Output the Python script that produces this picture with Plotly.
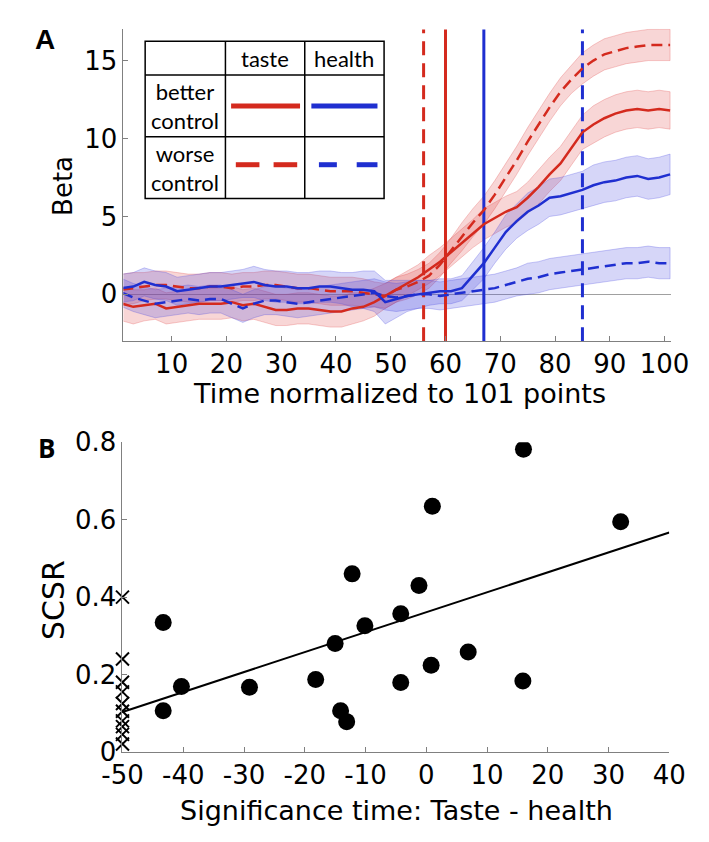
import numpy as np
import plotly.graph_objects as go

# ---------------- panel A data (every 2nd normalized time point) ----------------
time_pts = list(range(1, 102, 2))

taste_better = [-0.6, -0.8, -0.7, -0.6, -0.9, -0.8, -0.7, -0.6, -0.6, -0.6,
                -0.5, -0.7, -0.6, -0.8, -1.0, -1.0, -0.9, -0.9, -1.0, -1.1,
                -1.1, -0.9, -0.8, -0.5, -0.1, 0.3, 0.7, 1.1, 1.6, 2.1,
                2.7, 3.3, 3.9, 4.5, 4.9, 5.3, 5.6, 6.2, 6.9, 7.7,
                8.4, 9.4, 10.4, 10.9, 11.3, 11.6, 11.8, 11.9, 11.8, 11.9, 11.8]
taste_better_err = [1.1, 1.1, 1.0, 1.0, 1.0, 1.0, 1.0, 1.0, 1.0, 1.0,
                    1.0, 1.0, 1.0, 1.0, 1.0, 1.0, 1.0, 1.0, 1.0, 1.0,
                    1.0, 1.0, 0.9, 0.9, 0.8, 0.8, 0.8, 0.8, 0.9, 0.9,
                    0.9, 0.9, 0.9, 1.0, 1.0, 1.0, 1.0, 1.0, 1.1, 1.1,
                    1.1, 1.1, 1.1, 1.2, 1.2, 1.2, 1.2, 1.2, 1.2, 1.2, 1.2]

taste_worse = [0.3, 0.4, 0.5, 0.6, 0.6, 0.5, 0.4, 0.4, 0.5, 0.5,
               0.4, 0.5, 0.5, 0.6, 0.6, 0.5, 0.4, 0.4, 0.3, 0.2,
               0.2, 0.2, 0.1, 0.0, -0.1, 0.3, 0.5, 0.8, 1.2, 1.9,
               2.8, 3.7, 4.6, 5.4, 6.4, 7.5, 8.6, 9.8, 10.9, 12.0,
               13.0, 13.8, 14.5, 15.0, 15.4, 15.6, 15.8, 15.9, 16.0, 16.0, 16.0]
taste_worse_err = [1.0, 1.0, 0.9, 0.9, 0.9, 0.9, 0.9, 0.9, 0.9, 0.9,
                   0.9, 0.9, 0.9, 0.9, 0.9, 0.9, 0.9, 0.9, 0.9, 0.9,
                   0.9, 0.9, 0.9, 0.8, 0.8, 0.8, 0.8, 0.8, 0.8, 0.8,
                   0.8, 0.9, 0.9, 0.9, 0.9, 0.9, 0.9, 0.9, 0.9, 0.9,
                   0.9, 0.9, 1.0, 1.0, 1.0, 1.0, 1.0, 1.0, 1.0, 1.0, 1.0]

health_better = [0.4, 0.5, 0.8, 0.6, 0.5, 0.2, 0.3, 0.4, 0.5, 0.5,
                 0.6, 0.7, 0.8, 0.6, 0.5, 0.5, 0.4, 0.4, 0.5, 0.5,
                 0.4, 0.3, 0.3, 0.2, -0.5, -0.3, -0.1, 0.0, 0.1, 0.2,
                 0.2, 0.4, 1.2, 2.0, 3.0, 4.0, 4.7, 5.3, 5.7, 6.2,
                 6.3, 6.5, 6.7, 7.0, 7.2, 7.3, 7.5, 7.6, 7.4, 7.5, 7.7]
health_better_err = [0.9, 0.9, 0.9, 0.9, 0.9, 0.9, 0.9, 0.9, 0.9, 0.9,
                     0.9, 0.9, 1.0, 1.0, 1.0, 1.0, 1.0, 1.0, 1.0, 1.0,
                     1.0, 1.1, 1.2, 1.3, 1.4, 1.2, 1.0, 0.9, 0.8, 0.8,
                     0.8, 0.8, 0.9, 1.0, 1.0, 1.1, 1.1, 1.2, 1.2, 1.2,
                     1.2, 1.2, 1.2, 1.3, 1.3, 1.3, 1.3, 1.3, 1.3, 1.3, 1.3]

health_worse = [0.1, -0.2, -0.4, -0.6, -0.5, -0.4, -0.3, -0.4, -0.3, -0.3,
                -0.6, -0.9, -0.6, -0.4, -0.4, -0.5, -0.6, -0.5, -0.4, -0.3,
                -0.2, -0.1, 0.0, 0.1, -0.1, -0.2, -0.1, 0.0, 0.0, -0.1,
                0.0, 0.1, 0.2, 0.3, 0.4, 0.6, 0.8, 1.0, 1.1, 1.3,
                1.4, 1.5, 1.6, 1.7, 1.8, 1.9, 2.0, 2.0, 2.1, 2.0, 2.0]
health_worse_err = [0.9, 0.9, 0.9, 0.9, 0.9, 0.9, 0.9, 0.9, 0.9, 0.9,
                    0.9, 0.9, 0.9, 0.9, 0.9, 0.9, 0.9, 0.9, 0.9, 0.9,
                    0.9, 0.9, 0.9, 0.9, 0.9, 0.9, 0.9, 0.9, 0.9, 0.9,
                    0.9, 0.9, 0.9, 0.9, 0.9, 0.9, 0.9, 1.0, 1.0, 1.0,
                    1.0, 1.0, 1.0, 1.0, 1.0, 1.0, 1.0, 1.0, 1.0, 1.0, 1.0]

# significance onset times (taste worse, taste better, health better, health worse)
sig_times = [56, 60, 67, 85]

# ---------------- panel B data ----------------
sig_diff = [16, 1, 32, -12.2, -1.2, -43.3, -4.2, -10.1, -15, 6.9,
            0.8, -18.2, -4.2, 15.9, -40.3, -29.1, -43.3, -14.1, -13.1]
scsr = [0.782, 0.635, 0.595, 0.46, 0.43, 0.334, 0.357, 0.326, 0.28, 0.258,
        0.224, 0.187, 0.179, 0.183, 0.169, 0.167, 0.106, 0.106, 0.078]
never_sig_scsr = [0.40, 0.24, 0.18, 0.155, 0.125, 0.105, 0.08, 0.065, 0.045, 0.02]
fit_x = [-50, 40]
fit_y = [0.103, 0.567]
b_xticks = [-50, -40, -30, -20, -10, 0, 10, 20, 30, 40]
b_yticks = [0, 0.2, 0.4, 0.6, 0.8]

# page body has an 8px margin, so the figure is sized/positioned to compensate
OFF = 8
FW, FH = 709 - OFF, 842 - OFF
RED = "#d42a1e"
BLUE = "#1f2fd0"
FONT = "DejaVu Sans"


def px(x):
    return (x - OFF) / FW


def py(y):
    return 1 - (y - OFF) / FH


fig = go.Figure()

series = [
    (taste_worse, taste_worse_err, RED, "rgba(225,70,70,0.22)", "11px,6px"),
    (taste_better, taste_better_err, RED, "rgba(225,70,70,0.22)", "solid"),
    (health_worse, health_worse_err, BLUE, "rgba(70,70,225,0.22)", "11px,6px"),
    (health_better, health_better_err, BLUE, "rgba(70,70,225,0.22)", "solid"),
]

# shaded error bands
for mean, err, col, fillc, dash in series:
    m = np.array(mean)
    e = np.array(err)
    fig.add_trace(go.Scatter(
        x=time_pts + time_pts[::-1],
        y=list(m + e) + list((m - e)[::-1]),
        fill="toself", fillcolor=fillc,
        line=dict(color=fillc.replace("0.22", "0.35"), width=0.8),
        mode="lines", hoverinfo="skip", showlegend=False,
    ))

# vertical significance lines
for t, col, dash in zip(sig_times, [RED, RED, BLUE, BLUE],
                        ["14px,8px", "solid", "solid", "14px,8px"]):
    fig.add_trace(go.Scatter(
        x=[t, t], y=[-3, 17], mode="lines",
        line=dict(color=col, width=3, dash=dash),
        showlegend=False, hoverinfo="skip",
    ))

# mean curves
for mean, err, col, fillc, dash in series:
    fig.add_trace(go.Scatter(
        x=time_pts, y=mean, mode="lines",
        line=dict(color=col, width=2.5, dash=dash),
        showlegend=False,
    ))

# panel B
fig.add_trace(go.Scatter(
    x=fit_x, y=fit_y, mode="lines", line=dict(color="black", width=2),
    xaxis="x2", yaxis="y2", showlegend=False,
))
fig.add_trace(go.Scatter(
    x=sig_diff, y=scsr, mode="markers",
    marker=dict(color="black", size=17),
    xaxis="x2", yaxis="y2", showlegend=False,
))
fig.add_trace(go.Scatter(
    x=[-50] * len(never_sig_scsr), y=never_sig_scsr, mode="markers",
    marker=dict(symbol="x-thin", size=13, line=dict(color="black", width=2)),
    xaxis="x2", yaxis="y2", showlegend=False, cliponaxis=False,
))

axis_common = dict(
    showgrid=False, zeroline=False, showline=True, linecolor="#808080",
    linewidth=1, ticks="inside", ticklen=5, tickcolor="#808080",
    tickfont=dict(family=FONT, size=26, color="black"),
)

fig.update_layout(
    width=FW, height=FH, autosize=False,
    margin=dict(l=0, r=0, t=0, b=0),
    paper_bgcolor="white", plot_bgcolor="white",
    xaxis=dict(axis_common, domain=[px(108), px(688)], range=[1.2, 101.2],
               tickvals=list(range(10, 101, 10)), anchor="y"),
    yaxis=dict(axis_common, domain=[py(338), py(14)], range=[-3, 17.04],
               tickvals=[0, 5, 10, 15], anchor="x",
               zeroline=True, zerolinecolor="#a0a0a0", zerolinewidth=1),
    xaxis2=dict(axis_common, domain=[px(107), px(686)], range=[-50, 40],
                tickvals=b_xticks, ticktext=[str(v) for v in b_xticks], anchor="y2"),
    yaxis2=dict(axis_common, domain=[py(764), py(443)], range=[0, 0.8],
                tickvals=b_yticks, ticktext=["%g" % v for v in b_yticks], anchor="x2"),
)

# legend table (upper left of panel A)
tx0, tx1, tx2, tx3 = 131, 216, 300, 384
ty0, ty1, ty2, ty3 = 27, 62, 126, 190
line_k = dict(color="black", width=1.5)
shapes = [dict(type="rect", xref="paper", yref="paper",
               x0=px(tx0), x1=px(tx3), y0=py(ty3), y1=py(ty0),
               line=line_k, fillcolor="white", layer="above")]
for xx in [tx1, tx2]:
    shapes.append(dict(type="line", xref="paper", yref="paper",
                       x0=px(xx), x1=px(xx), y0=py(ty3), y1=py(ty0), line=line_k))
for yy in [ty1, ty2]:
    shapes.append(dict(type="line", xref="paper", yref="paper",
                       x0=px(tx0), x1=px(tx3), y0=py(yy), y1=py(yy), line=line_k))
# legend line samples
ym1, ym2 = 94, 155
for x0, x1, col, yy in [(222, 295, RED, ym1), (307, 377, BLUE, ym1),
                        (227, 252, RED, ym2), (267, 292, RED, ym2),
                        (315, 334, BLUE, ym2), (355, 377, BLUE, ym2)]:
    shapes.append(dict(type="line", xref="paper", yref="paper",
                       x0=px(x0), x1=px(x1), y0=py(yy), y1=py(yy),
                       line=dict(color=col, width=5)))
fig.update_layout(shapes=shapes)


def note(text, x, y, font, angle=0):
    fig.add_annotation(text=text, x=px(x), y=py(y), xref="paper", yref="paper",
                       showarrow=False, font=font, textangle=angle,
                       xanchor="center", yanchor="middle")


tfont = dict(family="Lato", size=22, color="black")
note("taste", (tx1 + tx2) / 2, (ty0 + ty1) / 2, tfont)
note("health", (tx2 + tx3) / 2, (ty0 + ty1) / 2, tfont)
note("better<br>control", (tx0 + tx1) / 2, ym1, tfont)
note("worse<br>control", (tx0 + tx1) / 2, (ty2 + ty3) / 2, tfont)

note("Beta", 44, 177, dict(family=FONT, size=26, color="black"), -90)
note("Time normalized to 101 points", 400, 392, dict(family=FONT, size=27, color="black"))
note("SCSR", 34, 607, dict(family=FONT, size=30, color="black"), -90)
note("Significance time: Taste - health", 397, 825, dict(family=FONT, size=27, color="black"))
note("<b>A</b>", 25, 25, dict(family="Liberation Sans", size=28, color="black"))
note("<b>B</b>", 27, 449, dict(family="Open Sans", size=26, color="black"))

fig.write_html("out.html")
